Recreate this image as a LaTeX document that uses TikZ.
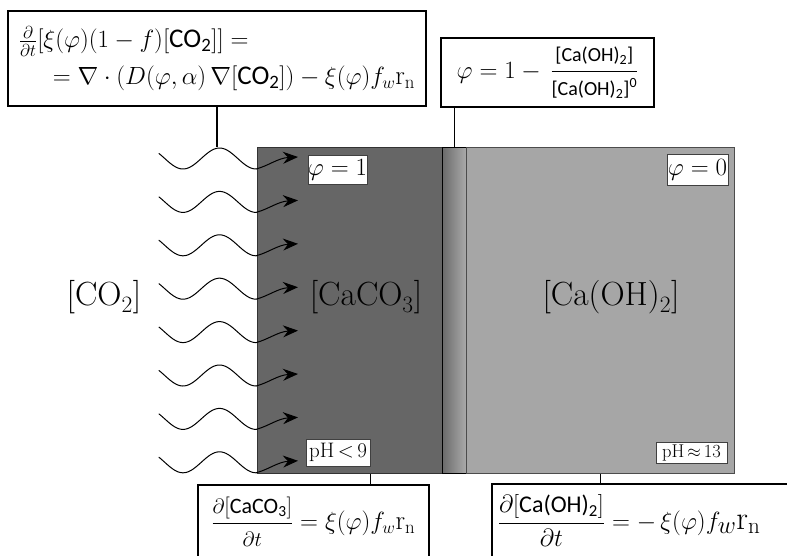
\documentclass[tikz,border=0pt]{standalone}
\usepackage{amsmath}
\usepackage{fontspec}
\newfontfamily\chemfont{Carlito}
\usetikzlibrary{arrows.meta, positioning, calc}

\definecolor{carbgray}{HTML}{666666}
\definecolor{hydrgray}{HTML}{A6A6A6}

% fraction whose parts are set in text at a given size
\newcommand{\sizedfrac}[3]{\dfrac{\text{\fontsize{#1}{#1}\selectfont#2}}{\text{\fontsize{#1}{#1}\selectfont#3}}}
\newcommand{\chem}[1]{\text{\chemfont #1}}

\tikzset{
  slab/.style={draw=black!80, line width=0.8pt, inner sep=0pt, anchor=north west},
  eqbox/.style={draw=black, line width=1.6pt, fill=white, inner sep=0pt},
  tag/.style={draw=black!75, line width=0.8pt, fill=white, inner sep=0pt, font=\fontsize{23}{25}\selectfont},
  species/.style={font=\fontsize{33.5}{38}\selectfont, text=black},
  feed/.style={line width=1pt, line cap=round},
  flux/.style={line width=1pt, -{Stealth[length=15pt,width=12pt,inset=5pt]}},
  lead/.style={line width=1.3pt},
}

\begin{document}
\begin{tikzpicture}[x=1pt, y=-1pt]
  \useasboundingbox (0,0) rectangle (787,556);
  \fill[white] (0,0) rectangle (787,556);
  \clip (0,0) rectangle (787,556);

  % the three layers
  \node[slab, fill=carbgray, minimum width=185pt, minimum height=326pt] (caco3) at (257,147) {};
  \node[slab, draw=black, left color=black!58, right color=black!33, minimum width=24pt, minimum height=326pt] (front) at (442,147) {};
  \node[slab, draw=black!70, fill=hydrgray, minimum width=268pt, minimum height=326pt] (caoh) at (466,147) {};

  % incoming CO2
  \foreach \k in {0,...,7}{
    \pgfmathsetmacro{\yt}{169+43.4*\k}
    \draw[feed] plot[domain=159:256, samples=50, smooth] (\x, {\yt-10.5+10.5*cos(4.9315*(\x-183))});
    \draw[flux] (256,\yt) .. controls (268,\yt-3) and (278,\yt-11) .. (298,\yt-12);
  }

  \node[species] (co2) at (104,297) {[CO\textsubscript{2}]};
  \node[species] (caco3lbl) at (366,297) {[CaCO\textsubscript{3}]};
  \node[species] (caohlbl) at (611,297) {[Ca(OH)\textsubscript{2}]};

  \node[tag, minimum width=59pt, minimum height=29pt] (phione) at (337.5,169.5) {$\varphi = 1$};
  \node[tag, minimum width=61pt, minimum height=31pt] (phizero) at (697.5,169.5) {$\varphi = 0$};
  \node[tag, minimum width=64pt, minimum height=27pt, font=\fontsize{21}{23}\selectfont] (phlow) at (338,452.5) {pH\,<\,9};
  \node[tag, minimum width=71pt, minimum height=21pt, font=\fontsize{18.5}{20}\selectfont] (phhigh) at (691.5,452.5) {pH\,$\approx$\,13};

  % equations
  \node[eqbox, minimum width=418pt, minimum height=95pt, align=left, font=\fontsize{27}{37}\selectfont] (eqcarb) at (217,58.5)
    {$\frac{\partial}{\partial t}[\xi(\varphi)(1-f)[\chem{CO\textsubscript{2}}]] =$\\
     \hspace*{34pt}$= \nabla\cdot(D(\varphi,\alpha)\,\nabla[\chem{CO\textsubscript{2}}]) - \xi(\varphi)f_w\mathrm{r}_\mathrm{n}$};
  \node[eqbox, minimum width=213pt, minimum height=69pt, font=\fontsize{25}{28}\selectfont] (eqphi) at (547.5,72.5)
    {$\varphi = 1 -\, \sizedfrac{20}{\chemfont[Ca(OH)\textsubscript{2}]}{\chemfont[Ca(OH)\textsubscript{2}]\textsuperscript{0}}$};
  \node[eqbox, anchor=north west, minimum width=231pt, minimum height=74pt, font=\fontsize{27}{30}\selectfont] (eqcaco3) at (197,484)
    {$\sizedfrac{22}{$\partial$[\chem{CaCO\textsubscript{3}}]}{$\partial t$} = \xi(\varphi)f_w\mathrm{r}_\mathrm{n}$};
  \node[eqbox, anchor=north west, minimum height=74pt, text width=306pt, inner xsep=6pt, align=left, font=\fontsize{33}{35}\selectfont] (eqcaoh) at (491,483)
    {$\sizedfrac{24}{$\partial$[\chem{Ca(OH)\textsubscript{2}}]}{$\partial t$} = -\,\xi(\varphi)f_w\mathrm{r}_\mathrm{n}$};

  % leader lines
  \draw[lead] (eqcarb.south) -- (eqcarb.south |- caco3.north);
  \draw[lead] (eqphi.south -| front.north) -- (front.north);
  \draw[lead] (phlow.east |- caco3.south) -- (phlow.east |- eqcaco3.north);
  \draw[lead] (caoh.south) -- (caoh.south |- eqcaoh.north);
\end{tikzpicture}
\end{document}
